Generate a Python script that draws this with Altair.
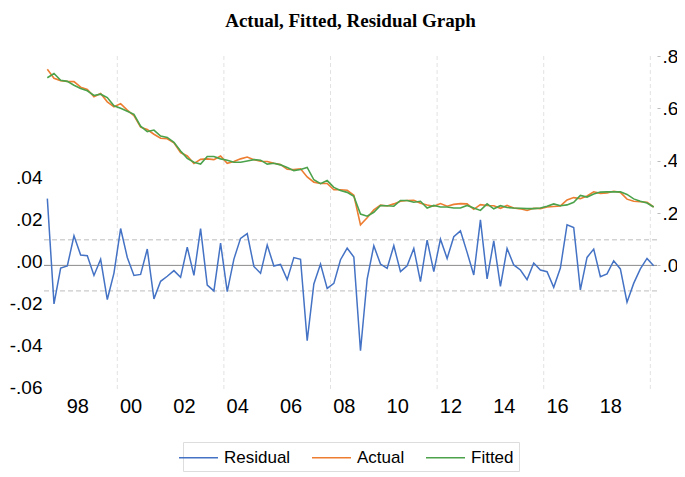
import altair as alt
import pandas as pd

# ---- data (quarterly, 1997Q2 .. 2020Q1) ----
FIRST_QUARTER_MID = 1997.375   # mid-point of 1997Q2, in decimal years
QUARTER = 0.25

residual = [
    0.0319, -0.0184, -0.0013, -0.0003, 0.0141, 0.0049, 0.0046, -0.0048, 0.0029, -0.0163,
    -0.0037, 0.0176, 0.0038, -0.0048, -0.0043, 0.0078, -0.0160, -0.0076, -0.0052, -0.0025,
    -0.0057, 0.0087, -0.0048, 0.0176, -0.0094, -0.0122, 0.0106, -0.0125, 0.0030, 0.0129,
    0.0152, -0.0005, -0.0038, 0.0097, -0.0003, 0.0005, -0.0068, 0.0037, 0.0029, -0.0360,
    -0.0089, 0.0006, -0.0110, -0.0086, 0.0027, 0.0082, 0.0040, -0.0408, -0.0065, 0.0094,
    0.0006, -0.0014, 0.0094, -0.0030, -0.0002, 0.0081, -0.0078, 0.0121, -0.0030, 0.0125,
    0.0033, 0.0137, 0.0165, 0.0062, -0.0046, 0.0217, -0.0065, 0.0117, -0.0100, 0.0081,
    0.0002, -0.0022, -0.0068, 0.0011, -0.0022, -0.0030, -0.0105, -0.0013, 0.0194, 0.0181,
    -0.0117, 0.0038, 0.0078, -0.0054, -0.0041, 0.0022, -0.0017, -0.0176, -0.0086, -0.0017,
    0.0033, -0.0002,
]

actual = [
    0.749, 0.715, 0.706, 0.703, 0.702, 0.681, 0.672, 0.644, 0.657, 0.625,
    0.606, 0.618, 0.593, 0.572, 0.528, 0.519, 0.501, 0.486, 0.484, 0.468,
    0.431, 0.418, 0.389, 0.405, 0.407, 0.404, 0.418, 0.390, 0.397, 0.407,
    0.414, 0.404, 0.398, 0.397, 0.390, 0.385, 0.367, 0.366, 0.369, 0.338,
    0.318, 0.313, 0.313, 0.289, 0.289, 0.287, 0.268, 0.155, 0.182, 0.212,
    0.230, 0.227, 0.235, 0.245, 0.248, 0.249, 0.237, 0.231, 0.226, 0.236,
    0.226, 0.233, 0.236, 0.235, 0.214, 0.232, 0.229, 0.228, 0.218, 0.229,
    0.219, 0.216, 0.210, 0.218, 0.217, 0.223, 0.225, 0.227, 0.250, 0.259,
    0.255, 0.265, 0.281, 0.275, 0.277, 0.283, 0.279, 0.253, 0.245, 0.243,
    0.241, 0.223,
]

fitted = [
    0.717, 0.733, 0.707, 0.703, 0.688, 0.676, 0.667, 0.649, 0.654, 0.641,
    0.610, 0.600, 0.589, 0.577, 0.532, 0.511, 0.517, 0.494, 0.489, 0.470,
    0.437, 0.409, 0.394, 0.387, 0.416, 0.416, 0.407, 0.402, 0.394, 0.394,
    0.399, 0.404, 0.402, 0.387, 0.390, 0.384, 0.374, 0.362, 0.366, 0.374,
    0.327, 0.312, 0.324, 0.298, 0.286, 0.279, 0.264, 0.196, 0.188, 0.203,
    0.229, 0.228, 0.226, 0.248, 0.248, 0.241, 0.245, 0.219, 0.229, 0.223,
    0.223, 0.219, 0.219, 0.229, 0.219, 0.210, 0.235, 0.216, 0.228, 0.221,
    0.219, 0.218, 0.217, 0.217, 0.219, 0.226, 0.235, 0.228, 0.231, 0.241,
    0.267, 0.261, 0.273, 0.280, 0.281, 0.281, 0.281, 0.271, 0.254, 0.245,
    0.238, 0.223,
]

label_years = [1998, 2000, 2002, 2004, 2006, 2008, 2010, 2012, 2014, 2016, 2018]
grid_years = [2000, 2004, 2008, 2012, 2016, 2020]
resid_ticks = [-0.06, -0.04, -0.02, 0.0, 0.02, 0.04]
level_ticks = [0.0, 0.2, 0.4, 0.6, 0.8]
std_err_band = [0.0122, -0.0122]
zero_line = [0.0]

SERIES = ["Residual", "Actual", "Fitted"]
COLORS = ["#4472C4", "#ED7D31", "#4BA24B"]

FONT = "Liberation Sans"

# ---- frames ----
t = [FIRST_QUARTER_MID + QUARTER * i for i in range(len(residual))]
df_res = pd.DataFrame({"t": t, "value": residual, "series": "Residual"})
df_act = pd.DataFrame({"t": t, "value": actual, "series": "Actual"})
df_fit = pd.DataFrame({"t": t, "value": fitted, "series": "Fitted"})
df_grid = pd.DataFrame({"t": grid_years})
df_band = pd.DataFrame({"value": std_err_band})
df_zero = pd.DataFrame({"value": zero_line})

x_scale = alt.Scale(domain=[1997.25, 2020.25], nice=False, zero=False)
res_scale = alt.Scale(domain=[-0.06, 0.10], nice=False, zero=False)
lvl_scale = alt.Scale(domain=[-0.48, 0.8], nice=False, zero=False)

x_axis = alt.Axis(
    values=[y + 0.5 for y in label_years],
    labelExpr="format(floor(datum.value) % 100, '02d')",
    grid=False, ticks=False, domain=False, title=None, orient="bottom",
    labelFontSize=20, labelPadding=5, labelFont=FONT, labelColor="black",
)
res_axis = alt.Axis(
    orient="left", values=resid_ticks,
    labelExpr="replace(replace(format(datum.value, '.2f'), '0.', '.'), '\u2212', '-')",
    ticks=False, domain=False, grid=False, title=None, labelOffset=-4,
    labelFontSize=19, labelPadding=2, labelFont=FONT, labelColor="black",
)
lvl_axis = alt.Axis(
    orient="right", values=level_ticks,
    labelExpr="replace(format(datum.value, '.1f'), '0.', '.')",
    ticks=True, tickSize=3, tickColor="#bbbbbb", domain=False, grid=False,
    title=None, labelFontSize=19, labelPadding=2, labelFont=FONT, labelColor="black",
)

X = alt.X("t:Q", scale=x_scale, axis=x_axis, title=None)
Y_RES = alt.Y("value:Q", scale=res_scale, axis=res_axis, title=None)
Y_LVL = alt.Y("value:Q", scale=lvl_scale, axis=lvl_axis, title=None)

color = alt.Color(
    "series:N",
    scale=alt.Scale(domain=SERIES, range=COLORS),
    legend=alt.Legend(
        title=None, orient="none", legendX=139, legendY=386,
        direction="horizontal", symbolType="M-2,0H2", symbolSize=380,
        symbolStrokeWidth=1.5, labelFontSize=17, labelFont=FONT,
        labelColor="black", strokeColor="#dddddd", padding=5,
        columnPadding=18, labelOffset=15,
    ),
)

grid = alt.Chart(df_grid).mark_rule(
    color="#e2e2e2", strokeDash=[4, 3], strokeWidth=1
).encode(x=X)

band = alt.Chart(df_band).mark_rule(
    color="#bdbdbd", strokeDash=[5, 3], strokeWidth=1
).encode(y=Y_RES)

zero = alt.Chart(df_zero).mark_rule(
    color="#8a8a8a", strokeWidth=1
).encode(y=Y_RES)

res_line = alt.Chart(df_res).mark_line(strokeWidth=1.5).encode(
    x=X, y=Y_RES, color=color,
)

res_group = alt.layer(grid, band, zero, res_line)

act_line = alt.Chart(df_act).mark_line(strokeWidth=1.6).encode(
    x=X, y=Y_LVL, color=color,
)
fit_line = alt.Chart(df_fit).mark_line(strokeWidth=1.6).encode(
    x=X, y=Y_LVL, color=color,
)

lvl_group = alt.layer(act_line, fit_line)

chart = alt.layer(res_group, lvl_group).resolve_scale(y="independent").properties(
    width=613, height=335,
    title=alt.TitleParams(
        "Actual, Fitted, Residual Graph", font="Liberation Serif", fontSize=19,
        fontWeight="bold", color="black", anchor="middle", offset=16,
    ),
    autosize=alt.AutoSizeParams(type="none"),
    padding={"left": 36, "top": 48, "right": 20, "bottom": 86},
).configure_view(stroke=None)

chart.save("out.html", embed_options={"renderer": "svg", "actions": False})
